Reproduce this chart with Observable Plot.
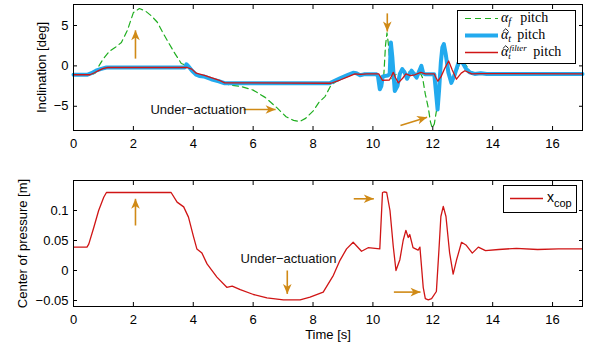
<!DOCTYPE html>
<html>
<head>
<meta charset="utf-8">
<script src="https://cdn.jsdelivr.net/npm/d3@7"></script>
<script src="https://cdn.jsdelivr.net/npm/@observablehq/plot@0.6"></script>
<style>
  body { margin: 0; background: #fff; }
  #chart { position: relative; width: 592px; height: 345px; font-family: "Liberation Sans", Arial, sans-serif; color: #000; }
  #chart svg { display: block; }
  .legend { position: absolute; background: #fff; border: 1px solid #000; box-sizing: border-box; }
  .legend > svg { position: absolute; left: 0; top: 0; }
  .row { position: absolute; height: 12px; line-height: 12px; white-space: nowrap; }
  .row > * { display: inline-block; line-height: 12px; vertical-align: baseline; }
  .serif { font-family: "Liberation Serif", "DejaVu Serif", serif; font-size: 14px; }
  .sans { font-family: "Liberation Sans", Arial, sans-serif; font-size: 14px; }
  .row > .sub { font-size: 10px; line-height: 8px; vertical-align: -3px; }
  .row > .hat { position: relative; }
  .hat svg { position: absolute; left: 1px; top: -1px; display: block; }
  .row > .stack { position: relative; width: 25px; height: 12px; vertical-align: top; }
  .stack i { position: absolute; font-size: 9px; line-height: 8px; }
</style>
</head>
<body>
<div id="chart">
  <div id="upper"></div>
  <div id="lower"></div>

  <div class="legend" style="left:457px; top:10px; width:119px; height:54px;">
    <svg width="117" height="52">
      <line x1="7" x2="40" y1="7.5" y2="7.5" stroke="#1fae1f" stroke-width="1.2" stroke-dasharray="6,4"></line>
      <line x1="7" x2="40" y1="24.5" y2="24.5" stroke="#22aaee" stroke-width="4"></line>
      <line x1="7" x2="40" y1="41.5" y2="41.5" stroke="#d01515" stroke-width="1.3"></line>
    </svg>
    <div class="row serif" style="left:43px; top:1px;"><i>α</i><i class="sub">f</i><span style="margin-left:9px">pitch</span></div>
    <div class="row serif" style="left:43px; top:18px;"><span class="hat"><i>α</i><svg width="7" height="4"><polyline points="0.8,3.6 3.8,0.7 6.6,3.6" fill="none" stroke="#000" stroke-width="0.9"></polyline></svg></span><i class="sub">t</i><span style="margin-left:6px">pitch</span></div>
    <div class="row serif" style="left:43px; top:35px;"><span class="hat"><i>α</i><svg width="7" height="4"><polyline points="0.8,3.6 3.8,0.7 6.6,3.6" fill="none" stroke="#000" stroke-width="0.9"></polyline></svg></span><span class="stack"><i style="left:1px; top:-2.5px;">filter</i><i style="left:0px; top:5.5px;">t</i></span><span>pitch</span></div>
  </div>

  <div class="legend" style="left:503px; top:185px; width:74px; height:28px;">
    <svg width="72" height="26">
      <line x1="6" x2="39" y1="12.5" y2="12.5" stroke="#d01515" stroke-width="1.3"></line>
    </svg>
    <div class="row sans" style="left:43px; top:5px;"><span>x</span><span class="sub" style="font-size:11px; vertical-align:-5px;">cop</span></div>
  </div>
</div>

<script>
// Time axis and tick values
const timeTicks = [0, 2, 4, 6, 8, 10, 12, 14, 16];
const inclinationTicks = [-5, 0, 5];
const copTicks = [-0.05, 0, 0.05, 0.1];

// Foot inclination alpha_f pitch [deg]
const alphaFTime = [0, 0.6, 0.72, 0.85, 1.0, 1.2, 1.4, 1.6, 1.8, 2.0, 2.2, 2.4, 2.6, 2.8, 3.0, 3.2, 3.4, 3.6, 3.78, 3.95,
  4.1, 4.3, 4.6, 4.85, 5.05, 5.2, 5.6, 6.0, 6.4, 6.8, 7.1, 7.35, 7.55, 7.75, 8.0, 8.2, 8.4, 8.6, 8.75, 9.0,
  9.3, 9.6, 10.0, 10.2, 10.3, 10.36, 10.42, 10.47, 10.52, 10.58, 10.63, 10.75, 11.0, 11.3, 11.6,
  11.66, 11.75, 11.85, 11.92, 11.98, 12.05, 12.12, 12.2, 12.28, 12.34, 12.42, 12.52, 12.62, 12.75, 12.9,
  13.05, 13.25, 13.5, 14, 17];
const alphaF = [-1.1, -1.1, -0.9, 0.0, 0.9, 1.8, 2.3, 2.9, 4.4, 6.6, 7.1, 6.8, 6.2, 5.4, 4.0, 2.7, 1.45, 0.3, 0.05, -0.6,
  -1.05, -1.3, -1.6, -1.9, -2.15, -2.35, -2.55, -3.0, -3.9, -5.2, -6.3, -6.75, -6.9, -6.5, -5.6, -4.5, -3.8, -2.4, -2.0, -1.5,
  -0.9, -1.1, -1.05, -1.05, -1.8, -1.4, 2.5, 4.1, 2.6, -0.6, -1.6, -1.1, -0.6, -0.8, -1.0,
  -1.5, -3.5, -5.2, -6.9, -7.7, -7.2, -5.6, -2.5, 0.5, 1.9, 1.2, -0.8, -1.8, -1.2, 0.3,
  0.4, -0.7, -1.0, -1.0, -1.0];

// Estimated trunk inclination alpha_t pitch [deg]
const alphaHatTime = [0, 0.45, 0.6, 0.75, 0.9, 1.1, 3.72, 3.77, 3.85, 3.96, 4.1, 4.2, 4.35, 4.6, 4.85, 5.05,
  8.55, 8.9, 9.15, 9.34, 9.45, 9.57, 9.7, 10.12, 10.17, 10.23, 10.28, 10.33,
  10.5, 10.56, 10.6, 10.65, 10.73, 10.82, 10.9, 10.98, 11.06, 11.14, 11.22, 11.29, 11.37, 11.46, 11.55, 11.62, 11.68, 11.75,
  12.05, 12.1, 12.16, 12.21, 12.27, 12.32, 12.37, 12.43, 12.52, 12.62, 12.72, 12.85, 12.96,
  13.1, 13.23, 13.4, 13.6, 13.8, 17];
const alphaHat = [-1.1, -1.1, -0.9, -0.6, -0.4, -0.2, -0.2, 0.2, -0.1, -0.6, -1.1, -1.25, -1.3, -1.65, -1.9, -2.15,
  -2.15, -1.55, -1.15, -0.85, -0.9, -1.15, -1.05, -1.05, -1.3, -2.9, -2.5, -1.3,
  -1.2, -1.0, 2.9, 1.0, -3.1, -2.5, -1.0, -0.4, -0.8, -1.6, -1.0, -0.6, -1.0, -1.45, -0.6, 0.0, -0.9, -1.05,
  -1.05, -3.0, -5.4, -3.0, 0.5, 2.3, 2.7, 1.5, -0.8, -2.1, -1.2, 0.3, 0.6,
  -0.3, -0.8, -1.0, -0.9, -1.0, -1.0];

// Filtered estimate alpha_t^filter pitch [deg]
const alphaFilterTime = [0, 0.55, 0.7, 0.85, 1.0, 1.15, 3.8, 3.95, 4.1, 4.25, 4.4, 4.6, 4.85, 5.05,
  8.6, 8.9, 9.2, 9.4, 9.6, 9.8, 10.2, 10.26, 10.32, 10.55, 10.62, 10.68, 10.76, 10.85,
  11.0, 11.1, 11.25, 11.4, 11.6, 11.75, 12.05, 12.1, 12.17, 12.28, 12.4, 12.53, 12.65, 12.79, 12.95, 13.07, 13.3, 13.6, 17];
const alphaFilter = [-1.1, -1.1, -0.85, -0.55, -0.3, -0.2, -0.2, -0.4, -0.9, -1.05, -1.2, -1.45, -1.75, -2.1,
  -2.15, -1.75, -1.3, -1.0, -1.05, -1.0, -1.0, -1.4, -1.8, -1.75, -1.3, -0.8, -1.5, -2.1,
  -1.5, -1.0, -1.2, -1.1, -0.8, -1.0, -1.0, -1.4, -1.9, -1.3, -0.3, 0.6, -0.5, -1.65, -0.9, -0.6, -1.0, -0.95, -1.0];

// Center of pressure x_cop [m]
const copTime = [0, 0.45, 0.51, 0.68, 0.84, 1.01, 1.1, 3.26, 3.46, 3.68, 3.84, 4.01, 4.12, 4.29, 4.46,
  4.79, 5.12, 5.3, 5.57, 6.01, 6.46, 7.01, 7.57, 7.9, 8.34, 8.68, 8.9, 9.12, 9.34, 9.62,
  9.84, 10.23, 10.32, 10.38, 10.46, 10.57, 10.68, 10.77, 10.9, 11.01, 11.1, 11.18, 11.23, 11.34, 11.51, 11.57,
  11.68, 11.75, 11.85, 11.96, 12.12, 12.2, 12.27, 12.35, 12.44, 12.56, 12.68,
  12.79, 12.96, 13.12, 13.32, 13.52, 13.76, 14.2, 14.79, 15.5, 16.2, 17];
const cop = [0.039, 0.039, 0.044, 0.072, 0.1, 0.122, 0.13, 0.13, 0.114, 0.106, 0.089, 0.056, 0.036, 0.029, 0.011,
  -0.011, -0.028, -0.026, -0.032, -0.04, -0.0455, -0.049, -0.049, -0.0445, -0.036, -0.008, 0.017, 0.036, 0.047, 0.032,
  0.038, 0.036, 0.13, 0.131, 0.13, 0.1, 0.04, 0.0, 0.018, 0.05, 0.067, 0.055, 0.06, 0.038, 0.034, 0.039,
  -0.028, -0.047, -0.049, -0.047, -0.035, 0.03, 0.09, 0.107, 0.09, 0.03, -0.006,
  0.017, 0.047, 0.042, 0.029, 0.039, 0.033, 0.035, 0.037, 0.035, 0.036, 0.036];

// Annotation arrows (tail -> head) and notes
const upperArrowX1 = [2.07, 5.68, 10.48, 10.92];
const upperArrowY1 = [0.9, -5.4, 6.5, -7.38];
const upperArrowX2 = [2.07, 6.75, 10.48, 11.81];
const upperArrowY2 = [4.4, -5.4, 4.25, -6.35];
const lowerArrowX1 = [2.07, 7.14, 9.36, 10.7];
const lowerArrowY1 = [0.075, 0.0, 0.1195, -0.036];
const lowerArrowX2 = [2.07, 7.14, 10.03, 11.59];
const lowerArrowY2 = [0.1195, -0.039, 0.1195, -0.036];
const noteText = ["Under−actuation"];
const upperNoteX = [4.17], upperNoteY = [-5.5];
const lowerNoteX = [7.18], lowerNoteY = [0.02];

const green = "#1fae1f", blue = "#22aaee", red = "#d01515", gold = "#d08a16";

const series = (t, v) => t.map((ti, i) => ({t: ti, v: v[i]}));
const arrows = (x1, y1, x2, y2) => x1.map((_, i) => ({x1: x1[i], y1: y1[i], x2: x2[i], y2: y2[i]}));
const notes = (x, y) => x.map((_, i) => ({x: x[i], y: y[i], text: noteText[i]}));
const minusFormat = d => String(d).replace("-", "−");

// filled arrowhead with a swept-back base
const headMarker = (color, context) => {
  const doc = (context && context.document) || document;
  const ns = "http://www.w3.org/2000/svg";
  const m = doc.createElementNS(ns, "marker");
  m.setAttribute("viewBox", "-11 -5 12 10");
  m.setAttribute("markerUnits", "userSpaceOnUse");
  m.setAttribute("markerWidth", "12");
  m.setAttribute("markerHeight", "10");
  m.setAttribute("refX", "0");
  m.setAttribute("refY", "0");
  m.setAttribute("orient", "auto");
  const p = doc.createElementNS(ns, "path");
  p.setAttribute("d", "M0,0L-10,-4.3L-7.2,0L-10,4.3Z");
  p.setAttribute("fill", color);
  p.setAttribute("stroke", "none");
  m.appendChild(p);
  return m;
};

const baseStyle = {fontFamily: '"Liberation Sans", Arial, sans-serif', fontSize: "13px", color: "#000", background: "#fff", overflow: "visible"};

function frameAxes(yTicks, yLabel, yLabelOffset, xLabel) {
  return [
    Plot.frame({stroke: "#000", strokeWidth: 1}),
    Plot.axisX({ticks: timeTicks, anchor: "bottom", tickSize: 0, tickPadding: 8, label: xLabel, labelAnchor: "center", labelOffset: 32, labelArrow: "none"}),
    Plot.axisX({ticks: timeTicks, anchor: "bottom", tickSize: -4, fill: "none", label: null}),
    Plot.axisX({ticks: timeTicks, anchor: "top", tickSize: -4, fill: "none", label: null}),
    Plot.axisY({ticks: yTicks, anchor: "left", tickSize: 0, tickPadding: 5, tickFormat: minusFormat, label: yLabel, labelAnchor: "center", labelOffset: yLabelOffset, labelArrow: "none"}),
    Plot.axisY({ticks: yTicks, anchor: "left", tickSize: -4, fill: "none", label: null}),
    Plot.axisY({ticks: yTicks, anchor: "right", tickSize: -4, fill: "none", label: null})
  ];
}

const upper = Plot.plot({
  width: 592, height: 155,
  marginTop: 4, marginBottom: 25, marginLeft: 73, marginRight: 10,
  style: baseStyle,
  x: {domain: [0, 17]},
  y: {domain: [-8, 7.6]},
  marks: [
    Plot.line(series(alphaFTime, alphaF), {x: "t", y: "v", stroke: green, strokeWidth: 1.2, strokeDasharray: "6,4"}),
    Plot.line(series(alphaHatTime, alphaHat), {x: "t", y: "v", stroke: blue, strokeWidth: 4, strokeLinejoin: "round"}),
    Plot.line(series(alphaFilterTime, alphaFilter), {x: "t", y: "v", stroke: red, strokeWidth: 1.3}),
    Plot.link(arrows(upperArrowX1, upperArrowY1, upperArrowX2, upperArrowY2), {x1: "x1", y1: "y1", x2: "x2", y2: "y2", stroke: gold, strokeWidth: 1.6, markerEnd: headMarker}),
    Plot.text(notes(upperNoteX, upperNoteY), {x: "x", y: "y", text: "text", fill: "#111", fontSize: 13}),
    ...frameAxes(inclinationTicks, "Inclination [deg]", 37, null)
  ]
});

const lower = Plot.plot({
  width: 592, height: 190,
  marginTop: 25, marginBottom: 39, marginLeft: 73, marginRight: 10,
  style: baseStyle,
  x: {domain: [0, 17]},
  y: {domain: [-0.06, 0.15]},
  marks: [
    Plot.line(series(copTime, cop), {x: "t", y: "v", stroke: red, strokeWidth: 1.3}),
    Plot.link(arrows(lowerArrowX1, lowerArrowY1, lowerArrowX2, lowerArrowY2), {x1: "x1", y1: "y1", x2: "x2", y2: "y2", stroke: gold, strokeWidth: 1.6, markerEnd: headMarker}),
    Plot.text(notes(lowerNoteX, lowerNoteY), {x: "x", y: "y", text: "text", fill: "#111", fontSize: 13}),
    ...frameAxes(copTicks, "Center of pressure [m]", 56, "Time [s]")
  ]
});

document.getElementById("upper").appendChild(upper);
document.getElementById("lower").appendChild(lower);
</script>
</body>
</html>
